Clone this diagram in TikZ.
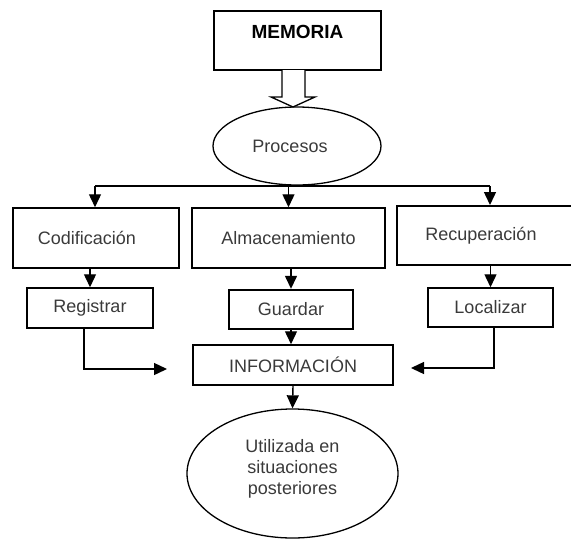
\documentclass[tikz,border=0pt]{standalone}
\usepackage{fontspec}
\setmainfont{Liberation Sans}
\usetikzlibrary{arrows.meta,shapes.geometric}
\definecolor{ink}{HTML}{3A3A3A}
\begin{document}
\begin{tikzpicture}[x=1pt,y=-1pt,
  every node/.style={font=\fontsize{18}{21}\selectfont, text=ink, inner sep=0pt},
  box/.style={draw=black, line width=1.5pt, rectangle},
  oval/.style={draw=black, line width=1.3pt, ellipse},
  conn/.style={draw=black, line width=1.4pt},
  arr/.style={conn, -{Triangle[length=13pt,width=12pt]}}]
\useasboundingbox (0,0) rectangle (571,539);

% title box and the hollow arrow under it
\node[box, minimum width=167pt, minimum height=59pt, text height=14pt, text depth=18pt,
      font=\fontsize{19}{21}\selectfont\bfseries, text=black] (mem) at (297.5,40.5) {MEMORIA};
\draw[line width=1.3pt, fill=white, line join=miter]
  (282,70) -- (282,97) -- (271,97) -- (293,107) -- (315,97) -- (305,97) -- (305,70);

\node[oval, minimum width=168pt, minimum height=78pt] (proc) at (297,146) {\hspace*{-14pt}Procesos};

% first row
\node[box, minimum width=166pt, minimum height=60pt] (cod) at (96,238) {\hspace*{-18pt}Codificación};
\node[box, minimum width=193pt, minimum height=60pt] (alm) at (288.5,238) {Almacenamiento};
\node[box, line width=2pt, minimum width=178pt, minimum height=59pt] (rec) at (486,235.5) {\hspace*{-10pt}Recuperación};

% second row
\node[box, minimum width=126pt, minimum height=40pt] (reg) at (90,308) {Registrar};
\node[box, line width=2.4pt, minimum width=124pt, minimum height=39pt] (gua) at (291,309.5) {Guardar};
\node[box, minimum width=125pt, minimum height=39pt] (loc) at (490.5,307.5) {Localizar};

\node[box, minimum width=200pt, minimum height=40pt] (inf) at (293,365) {INFORMACIÓN};

\node[oval, align=center, minimum width=211pt, minimum height=129pt] (uti) at (292.5,473.5)
  {Utilizada en\\situaciones\\posteriores\\[-8pt]};

% branching bar under the processes
\coordinate (hl) at (95,186);
\coordinate (hr) at (490,186);
\draw[conn] (hl) -- (hr);
\draw[arr] (hl) -- (hl |- cod.north);
\draw[arr] (alm.north |- hl) -- (alm.north);
\draw[arr] (hr) -- (hr |- rec.north);

% each process to its action
\draw[arr] (reg.north |- cod.south) -- (reg.north);
\draw[arr] (gua.north |- alm.south) -- (gua.north);
\draw[arr] (loc.north |- rec.south) -- (loc.north);

% actions into the information box
\coordinate (ra) at (167,369);
\coordinate (la) at (411,368);
\draw[arr] (84,328) |- (ra);
\draw[arr] (494,327) |- (la);
\draw[arr] (gua.south) -- (gua.south |- inf.north);
\draw[arr] (inf.south) -- (uti.north);
\end{tikzpicture}
\end{document}
